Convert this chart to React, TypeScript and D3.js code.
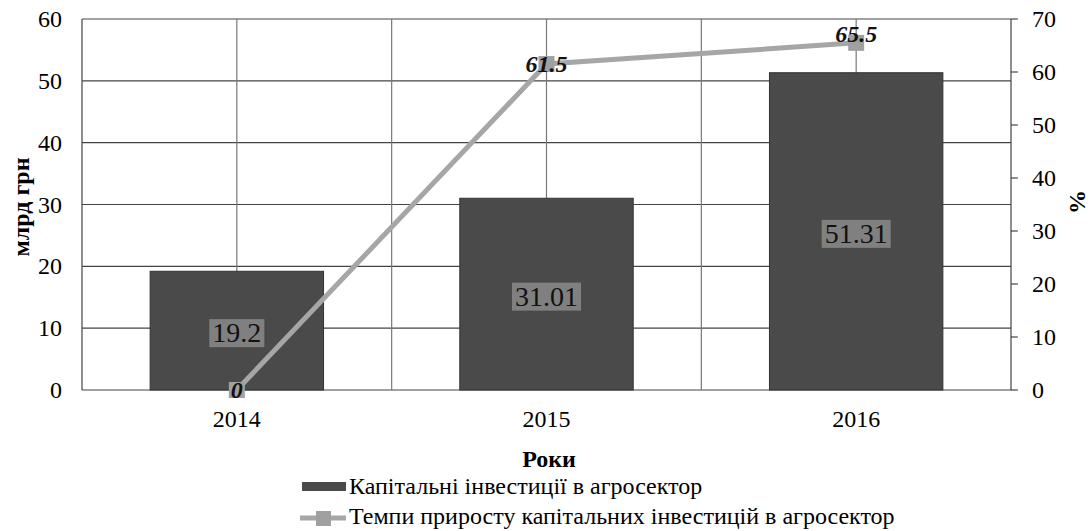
import React, { useEffect, useRef } from 'react';
import * as d3 from 'd3';

const years = ['2014', '2015', '2016'];
const investments = [19.2, 31.01, 51.31];
const growthRates = [0, 61.5, 65.5];
const leftTicks = [0, 10, 20, 30, 40, 50, 60];
const rightTicks = [0, 10, 20, 30, 40, 50, 60, 70];

const barName = 'Капітальні інвестиції в агросектор';
const lineName = 'Темпи приросту капітальних інвестицій в агросектор';

const FONT = "'Liberation Serif', 'Times New Roman', 'DejaVu Serif', serif";

const App = () => {
  const svgRef = useRef(null);

  useEffect(() => {
    const W = 1090;
    const H = 531;
    const margin = { top: 19, right: 79, bottom: 141, left: 82 };
    const width = W - margin.left - margin.right;
    const height = H - margin.top - margin.bottom;

    const root = d3.select(svgRef.current);
    root.selectAll('*').remove();
    root.attr('width', W).attr('height', H).attr('font-family', FONT);
    const svg = root.append('g').attr('transform', `translate(${margin.left},${margin.top})`);

    const x = d3.scaleBand().domain(years).range([0, width]).padding(0);
    const yL = d3.scaleLinear().domain([0, 60]).range([height, 0]);
    const yR = d3.scaleLinear().domain([0, 70]).range([height, 0]);

    // horizontal gridlines
    svg.selectAll('.hgrid')
      .data(leftTicks)
      .enter()
      .append('line')
      .attr('x1', 0)
      .attr('x2', width)
      .attr('y1', d => yL(d))
      .attr('y2', d => yL(d))
      .style('stroke', '#444')
      .style('stroke-width', 1.2);

    // vertical gridlines: centres and boundaries
    const vLines = [];
    years.forEach((y, i) => {
      vLines.push(x(y) + x.bandwidth() / 2);
      if (i > 0) vLines.push(x(y));
    });
    svg.selectAll('.vgrid')
      .data(vLines)
      .enter()
      .append('line')
      .attr('x1', d => d)
      .attr('x2', d => d)
      .attr('y1', 0)
      .attr('y2', height)
      .style('stroke', '#777')
      .style('stroke-width', 1.2);

    // plot frame sides
    [0, width].forEach(xx => {
      svg.append('line').attr('x1', xx).attr('x2', xx).attr('y1', 0).attr('y2', height)
        .style('stroke', '#444').style('stroke-width', 1.2);
    });

    // bars
    const barW = x.bandwidth() * 0.56;
    svg.selectAll('.bar')
      .data(investments)
      .enter()
      .append('rect')
      .attr('x', (d, i) => x(years[i]) + (x.bandwidth() - barW) / 2)
      .attr('y', d => yL(d))
      .attr('width', barW)
      .attr('height', d => height - yL(d))
      .style('fill', '#4a4a4a')
      .style('stroke', '#333')
      .style('stroke-width', 1);

    // bar value labels with gray boxes
    investments.forEach((v, i) => {
      const cx = x(years[i]) + x.bandwidth() / 2;
      const cy = (yL(v) + height) / 2 + 2;
      const t = svg.append('text')
        .attr('x', cx)
        .attr('y', cy)
        .attr('text-anchor', 'middle')
        .attr('dominant-baseline', 'central')
        .style('font-size', '28px')
        .style('fill', '#111')
        .text(String(v));
      const bb = t.node().getBBox();
      svg.insert('rect', () => t.node())
        .attr('x', bb.x - 3)
        .attr('y', bb.y + 2)
        .attr('width', bb.width + 6)
        .attr('height', bb.height - 3)
        .style('fill', '#808080');
    });

    // line series
    const pts = growthRates.map((v, i) => [x(years[i]) + x.bandwidth() / 2, yR(v)]);
    svg.append('path')
      .attr('d', d3.line()(pts))
      .style('fill', 'none')
      .style('stroke', '#a6a6a6')
      .style('stroke-width', 5);
    svg.selectAll('.marker')
      .data(pts)
      .enter()
      .append('rect')
      .attr('x', d => d[0] - 8)
      .attr('y', d => d[1] - 8)
      .attr('width', 16)
      .attr('height', 16)
      .style('fill', '#a0a0a0');

    svg.selectAll('.lineLabel')
      .data(growthRates)
      .enter()
      .append('text')
      .attr('x', (d, i) => pts[i][0])
      .attr('y', (d, i) => pts[i][1] + (i === 2 ? -9 : 0))
      .attr('text-anchor', 'middle')
      .attr('dominant-baseline', 'central')
      .style('font-size', '24px')
      .style('font-weight', 'bold')
      .style('font-style', 'italic')
      .style('fill', '#111')
      .text(d => String(d));

    // left axis labels
    svg.selectAll('.ltick')
      .data(leftTicks)
      .enter()
      .append('text')
      .attr('x', -20)
      .attr('y', d => yL(d))
      .attr('text-anchor', 'end')
      .attr('dominant-baseline', 'central')
      .style('font-size', '24px')
      .text(d => d);

    // right axis ticks + labels
    svg.selectAll('.rtickline')
      .data(rightTicks)
      .enter()
      .append('line')
      .attr('x1', width)
      .attr('x2', width + 7)
      .attr('y1', d => yR(d))
      .attr('y2', d => yR(d))
      .style('stroke', '#444')
      .style('stroke-width', 1.2);
    svg.selectAll('.rtick')
      .data(rightTicks)
      .enter()
      .append('text')
      .attr('x', width + 21)
      .attr('y', d => yR(d))
      .attr('text-anchor', 'start')
      .attr('dominant-baseline', 'central')
      .style('font-size', '24px')
      .text(d => d);

    // x labels
    svg.selectAll('.xtick')
      .data(years)
      .enter()
      .append('text')
      .attr('x', d => x(d) + x.bandwidth() / 2)
      .attr('y', height + 29)
      .attr('text-anchor', 'middle')
      .attr('dominant-baseline', 'central')
      .style('font-size', '24px')
      .text(d => d);

    // axis titles
    svg.append('text')
      .attr('transform', `translate(${21 - margin.left},${207 - margin.top}) rotate(-90)`)
      .attr('text-anchor', 'middle')
      .attr('dominant-baseline', 'central')
      .style('font-size', '24px')
      .style('font-weight', 'bold')
      .text('млрд грн');
    svg.append('text')
      .attr('transform', `translate(${1077 - margin.left},${202 - margin.top}) rotate(-90)`)
      .attr('text-anchor', 'middle')
      .attr('dominant-baseline', 'central')
      .style('font-size', '24px')
      .style('font-weight', 'bold')
      .text('%');
    svg.append('text')
      .attr('x', 549 - margin.left)
      .attr('y', 459 - margin.top)
      .attr('text-anchor', 'middle')
      .attr('dominant-baseline', 'central')
      .style('font-size', '24px')
      .style('font-weight', 'bold')
      .text('Роки');

    // legend
    const lg = root.append('g');
    lg.append('rect')
      .attr('x', 302).attr('y', 482).attr('width', 44).attr('height', 9)
      .style('fill', '#4a4a4a');
    lg.append('text')
      .attr('x', 349).attr('y', 486)
      .attr('dominant-baseline', 'central')
      .style('font-size', '24px')
      .text(barName);
    lg.append('line')
      .attr('x1', 300).attr('x2', 346).attr('y1', 518).attr('y2', 518)
      .style('stroke', '#a6a6a6').style('stroke-width', 5);
    lg.append('rect')
      .attr('x', 316).attr('y', 511).attr('width', 15).attr('height', 15)
      .style('fill', '#a0a0a0');
    lg.append('text')
      .attr('x', 349).attr('y', 516)
      .attr('dominant-baseline', 'central')
      .style('font-size', '24px')
      .text(lineName);
  }, []);

  return (
    <svg ref={svgRef} style={{ display: 'block', position: 'absolute', left: 0, top: 0 }}></svg>
  );
};

export default App;
